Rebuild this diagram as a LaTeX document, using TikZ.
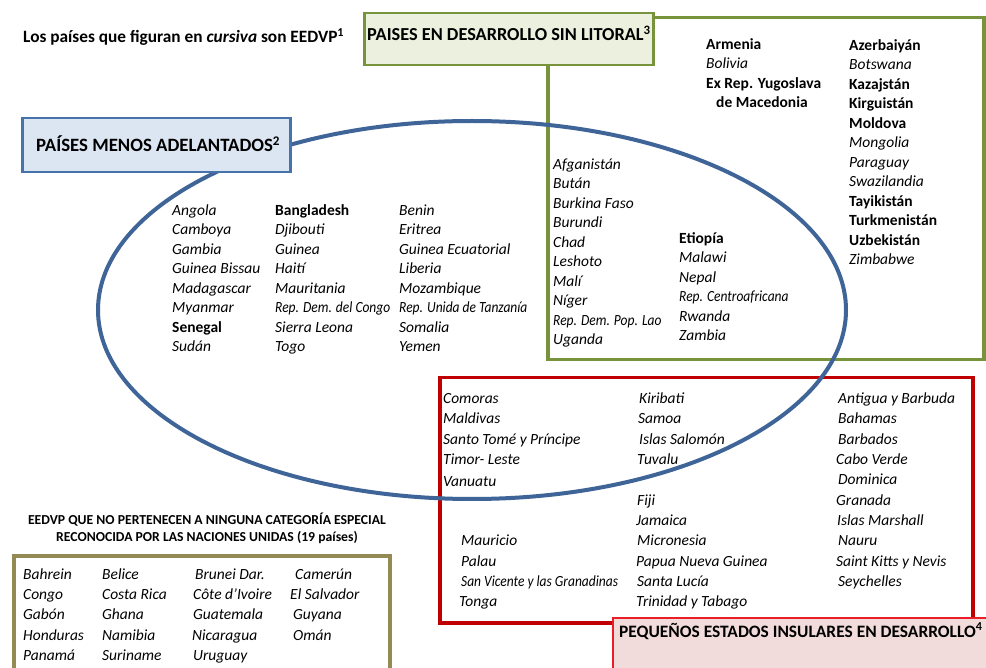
\documentclass[tikz,border=0pt]{standalone}
\usepackage{fontspec}
\setmainfont{Carlito}
\usetikzlibrary{shapes.geometric}
\definecolor{ellblue}{RGB}{62,100,152}
\definecolor{lblblue}{RGB}{70,115,172}
\definecolor{lblbluefill}{RGB}{220,230,242}
\definecolor{grnline}{RGB}{119,147,60}
\definecolor{grnfill}{RGB}{235,241,222}
\definecolor{redline}{RGB}{192,0,0}
\definecolor{pinkline}{RGB}{235,30,40}
\definecolor{pinkfill}{RGB}{242,220,219}
\definecolor{khaki}{RGB}{148,138,84}
\newcommand\boldname[1]{{\upshape\bfseries #1}}
\newcommand\condname[1]{\scalebox{0.87}[1]{#1}}
\begin{document}
\begin{tikzpicture}[x=1pt,y=-1pt,
  lst/.style={anchor=base west, inner sep=0pt, font=\fontsize{15.5}{18}\selectfont\itshape},
  hdr/.style={anchor=base west, inner sep=0pt, font=\fontsize{18.3}{21}\selectfont\bfseries},
  boxnode/.style={anchor=north west, inner sep=0pt, rectangle},
]
\clip (0,0) rectangle (986,668);
\fill[white] (0,0) rectangle (986,668);

% big boxes
\node[boxnode, draw=grnline, line width=3.5pt, minimum width=436pt, minimum height=342pt] (lldcbox) at (546,16) {};
\node[boxnode, draw=redline, line width=3.5pt, minimum width=533pt, minimum height=245pt] (sidsbox) at (438,376) {};
\node[boxnode, draw=khaki, line width=3.5pt, minimum width=376pt, minimum height=150pt] (otherbox) at (12,554) {};

% ellipse of LDCs
\node[draw=ellblue, line width=4pt, ellipse, inner sep=0pt, minimum width=748pt, minimum height=378pt] (ldc) at (472,310) {};

% label boxes
\node[boxnode, draw=grnline, fill=grnfill, line width=2.5pt, minimum width=289pt, minimum height=52pt] (lldclbl) at (363,12) {};
\node[boxnode, draw=lblblue, fill=lblbluefill, line width=2.5pt, minimum width=268pt, minimum height=54pt] (ldclbl) at (21,117) {};
\node[boxnode, draw=pinkline, fill=pinkfill, line width=2pt, minimum width=400pt, minimum height=80pt] (sidslbl) at (612,617) {};

% titles
\node[anchor=base west, inner sep=0pt, font=\fontsize{17.3}{20}\selectfont\bfseries] (note) at (23,43) {Los países que figuran en \textit{cursiva} son EEDVP\textsuperscript{1}};
\node[hdr] (lldctxt) at (367,41) {PAISES EN DESARROLLO SIN LITORAL\textsuperscript{3}};
\node[hdr, font=\fontsize{18.8}{21}\selectfont\bfseries] (ldctxt) at (36,152) {PAÍSES MENOS ADELANTADOS\textsuperscript{2}};
\node[hdr, font=\fontsize{17.4}{21}\selectfont\bfseries] (sidstxt) at (619,637) {PEQUEÑOS ESTADOS INSULARES EN DESARROLLO\textsuperscript{4}};
\node[align=center, inner sep=0pt, font=\fontsize{13.7}{17}\selectfont\bfseries] (othertxt) at (207,528) {EEDVP QUE NO PERTENECEN A NINGUNA CATEGORÍA ESPECIAL\\RECONOCIDA POR LAS NACIONES UNIDAS (19 países)};

% LDC only
\foreach \nm [count=\i] in {Angola, Camboya, Gambia, Guinea Bissau, Madagascar, Myanmar, {\boldname{Senegal}}, Sudán}
  \node[lst] (ldcA\i) at (172,{215.5+19.5*(\i-1)}) {\nm};
\foreach \nm [count=\i] in {{\boldname{Bangladesh}}, Djibouti, Guinea, Haití, Mauritania, {\condname{Rep. Dem. del Congo}}, Sierra Leona, Togo}
  \node[lst] (ldcB\i) at (275,{215.5+19.5*(\i-1)}) {\nm};
\foreach \nm [count=\i] in {Benin, Eritrea, Guinea Ecuatorial, Liberia, Mozambique, {\condname{Rep. Unida de Tanzanía}}, Somalia, Yemen}
  \node[lst] (ldcC\i) at (399,{215.5+19.5*(\i-1)}) {\nm};

% LDC and LLDC
\foreach \nm [count=\i] in {Afganistán, Bután, Burkina Faso, Burundi, Chad, Leshoto, Malí, Níger, {\condname{Rep. Dem. Pop. Lao}}, Uganda}
  \node[lst] (bothA\i) at (553,{169.5+19.45*(\i-1)}) {\nm};
\foreach \nm [count=\i] in {{\boldname{Etiopía}}, Malawi, Nepal, {\condname{Rep. Centroafricana}}, Rwanda, Zambia}
  \node[lst] (bothB\i) at (679,{243.5+19.4*(\i-1)}) {\nm};

% LLDC only
\node[lst] (lldcA1) at (706,49.5) {\boldname{Armenia}};
\node[lst] (lldcA2) at (706,68.5) {Bolivia};
\node[lst] (lldcA3) at (706,88.5) {\boldname{Ex Rep. Yugoslava}};
\node[lst] (lldcA4) at (716,107.5) {\boldname{de Macedonia}};
\foreach \nm [count=\i] in {{\boldname{Azerbaiyán}}, Botswana, {\boldname{Kazajstán}}, {\boldname{Kirguistán}}, {\boldname{Moldova}}, Mongolia, Paraguay, Swazilandia, {\boldname{Tayikistán}}, {\boldname{Turkmenistán}}, {\boldname{Uzbekistán}}, Zimbabwe}
  \node[lst] (lldcB\i) at (849,{50.5+19.5*(\i-1)}) {\nm};

% SIDS
\foreach \yy/\nm [count=\i] in {403.5/Comoras, 423.5/Maldivas, 444.5/Santo Tomé y Príncipe, 464.5/Timor- Leste, 486.5/Vanuatu}
  \node[lst] (sidsA\i) at (443,\yy) {\nm};
\foreach \xx/\yy/\nm [count=\i] in {461/545.5/Mauricio, 461/566.5/Palau, 461/586.5/{\condname{San Vicente y las Granadinas}}, 459/606.5/Tonga}
  \node[lst] (sidsB\i) at (\xx,\yy) {\nm};
\foreach \xx/\yy/\nm [count=\i] in {639/403.5/Kiribati, 638/423.5/Samoa, 639/444.5/Islas Salomón, 637/464.5/Tuvalu, 637/505.5/Fiji, 636/525.5/Jamaica, 637/545.5/Micronesia, 636/566.5/Papua Nueva Guinea, 637/586.5/Santa Lucía, 636/606.5/Trinidad y Tabago}
  \node[lst] (sidsC\i) at (\xx,\yy) {\nm};
\foreach \xx/\yy/\nm [count=\i] in {838/403.5/Antigua y Barbuda, 838/423.5/Bahamas, 838/444.5/Barbados, 836/464.5/Cabo Verde, 838/484.5/Dominica, 836/505.5/Granada, 837/525.5/Islas Marshall, 838/545.5/Nauru, 836/566.5/Saint Kitts y Nevis, 838/586.5/Seychelles}
  \node[lst] (sidsD\i) at (\xx,\yy) {\nm};

% others
\foreach \yy/\nm [count=\i] in {579.5/Bahrein, 599.5/Congo, 619.5/Gabón, 640.5/Honduras, 660.5/Panamá}
  \node[lst] (othA\i) at (23,\yy) {\nm};
\foreach \yy/\nm [count=\i] in {579.5/Belice, 599.5/Costa Rica, 619.5/Ghana, 640.5/Namibia, 660.5/Suriname}
  \node[lst] (othB\i) at (102,\yy) {\nm};
\foreach \xx/\yy/\nm [count=\i] in {195/579.5/Brunei Dar., 193/599.5/{Côte d\symbol{39}Ivoire}, 193/619.5/Guatemala, 192/640.5/Nicaragua, 193/660.5/Uruguay}
  \node[lst] (othC\i) at (\xx,\yy) {\nm};
\foreach \xx/\yy/\nm [count=\i] in {295/579.5/Camerún, 290/599.5/El Salvador, 293/619.5/Guyana, 293/640.5/Omán}
  \node[lst] (othD\i) at (\xx,\yy) {\nm};
\end{tikzpicture}
\end{document}
